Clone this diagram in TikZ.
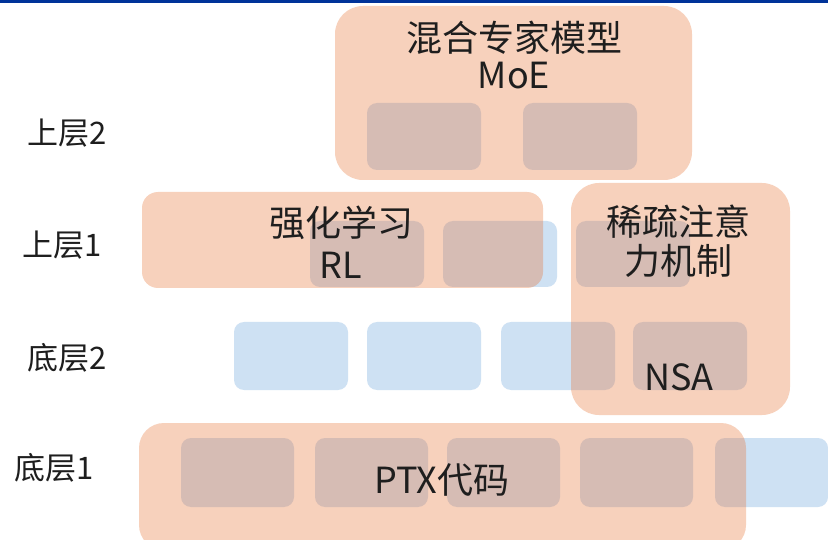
\documentclass[tikz,border=0pt]{standalone}
\usepackage{fontspec}
\newfontfamily\cjk{Noto Sans CJK SC}
\definecolor{cellblue}{RGB}{206,225,243}
\definecolor{layerorange}{RGB}{232,112,48}
\definecolor{topbar}{RGB}{0,51,153}
\definecolor{ink}{RGB}{30,30,30}
\begin{document}
\begin{tikzpicture}[x=1pt,y=-1pt,
  cell/.style={fill=cellblue, rounded corners=10pt},
  layer/.style={fill=layerorange, fill opacity=0.32, rounded corners=#1},
  layer/.default=25pt,
  title/.style={text=ink, font=\cjk\fontsize{36}{#1}\selectfont, align=center, inner sep=0pt},
  title/.default=37,
  rowlabel/.style={text=ink, font=\cjk\fontsize{31}{32}\selectfont, inner sep=0pt}]
\useasboundingbox (0,0) rectangle (828,540);
\fill[white] (0,0) rectangle (828,540);
\fill[topbar] (0,0) rectangle (828,3.5);

% grid of cells, one row per level
\foreach \x in {367,523} \path[cell] (\x,103) rectangle ++(114,67);
\foreach \x in {310,443,576} \path[cell] (\x,221) rectangle ++(114,66);
\foreach \x in {234,367,501,633} \path[cell] (\x,322) rectangle ++(114,68);
\foreach \x in {181,315,447,580,715} \path[cell] (\x,438) rectangle ++(113,69);

% translucent module blocks laid over the cells
\path[layer=28pt] (335,6) rectangle (692,180);
\path[layer=16pt] (142,192) rectangle (543,288);
\path[layer=28pt] (571,183) rectangle (790,415);
\path[layer=25pt] (139,423) rectangle (746,550);

% module titles
\node[title] (moe) at (514,55) {混合专家模型\\MoE};
\node[title=42] (rl) at (341,242) {强化学习\\RL};
\node[title=39] (sparse) at (678,241) {稀疏注意\\力机制};
\node[title] (nsa) at (679,377) {NSA};
\node[title] (ptx) at (442,480) {PTX代码};

% level labels
\node[rowlabel] (up2) at (67,133) {上层2};
\node[rowlabel] (up1) at (62,245) {上层1};
\node[rowlabel] (low2) at (67,358) {底层2};
\node[rowlabel] (low1) at (54,468) {底层1};
\end{tikzpicture}
\end{document}
